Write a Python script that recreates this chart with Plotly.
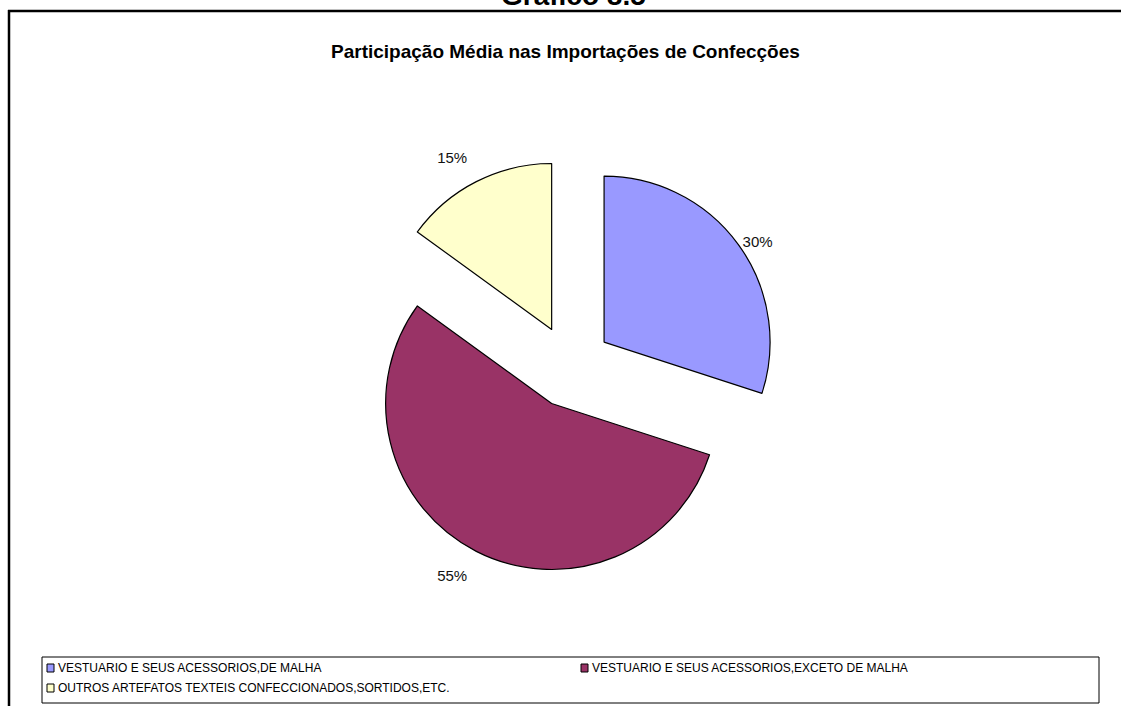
import plotly.graph_objects as go

# Average share of apparel imports, by product group
categories = [
    "VESTUARIO E SEUS ACESSORIOS,DE MALHA",
    "VESTUARIO E SEUS ACESSORIOS,EXCETO DE MALHA",
    "OUTROS ARTEFATOS TEXTEIS CONFECCIONADOS,SORTIDOS,ETC.",
]
shares = [30, 55, 15]
colors = ["#9999FF", "#993366", "#FFFFCC"]

W, H = 1121, 706
FONT = "Liberation Sans, Arial, sans-serif"


def px_x(x):
    return x / W


def px_y(y):
    return 1 - y / H


fig = go.Figure()
fig.add_trace(go.Pie(
    labels=categories,
    values=shares,
    sort=False,
    direction="clockwise",
    rotation=0,
    pull=[0.25, 0.25, 0.25],
    marker=dict(colors=colors, line=dict(color="black", width=1.2)),
    # blank lines push the outside labels a little further from the slices
    texttemplate=["%{percent:.0%}", "&nbsp;<br>%{percent:.0%}", "%{percent:.0%}<br> "],
    textposition="outside",
    textfont=dict(family=FONT, size=15, color="#111111"),
    domain=dict(x=[px_x(363), px_x(778)], y=[px_y(574), px_y(159)]),
    showlegend=False,
    hoverinfo="label+percent",
))

shapes = [
    # outer frame (top and left edges)
    dict(type="line", xref="paper", yref="paper", x0=px_x(8), x1=1, y0=px_y(11), y1=px_y(11),
         line=dict(color="black", width=2.5)),
    dict(type="line", xref="paper", yref="paper", x0=px_x(9), x1=px_x(9), y0=px_y(10), y1=0,
         line=dict(color="black", width=2.5)),
    # legend box
    dict(type="rect", xref="paper", yref="paper", x0=px_x(42), x1=px_x(1099), y0=px_y(703), y1=px_y(657),
         line=dict(color="black", width=1), fillcolor="white"),
]

annotations = [
    dict(text="<b>Gráfico 8.5</b>", xref="paper", yref="paper", x=px_x(573), y=px_y(13),
         xanchor="center", yanchor="bottom", showarrow=False,
         font=dict(family=FONT, size=28, color="black")),
    dict(text="<b>Participação Média nas Importações de Confecções</b>", xref="paper", yref="paper",
         x=px_x(565), y=px_y(52), xanchor="center", yanchor="middle", showarrow=False,
         font=dict(family=FONT, size=19, color="black")),
]

# legend entries: small colored squares with labels
legend_pos = [(47, 668), (581, 668), (47, 688)]
for name, col, (lx, ly) in zip(categories, colors, legend_pos):
    shapes.append(dict(type="rect", xref="paper", yref="paper",
                       x0=px_x(lx), x1=px_x(lx + 7), y0=px_y(ly + 4), y1=px_y(ly - 4),
                       line=dict(color="black", width=1), fillcolor=col))
    annotations.append(dict(text=name, xref="paper", yref="paper", x=px_x(lx + 9), y=px_y(ly),
                            xanchor="left", yanchor="middle", showarrow=False,
                            font=dict(family=FONT, size=12, color="black")))

fig.update_layout(
    width=W, height=H,
    margin=dict(l=0, r=0, t=0, b=0),
    paper_bgcolor="white",
    plot_bgcolor="white",
    shapes=shapes,
    annotations=annotations,
)

fig.write_html("out.html")
